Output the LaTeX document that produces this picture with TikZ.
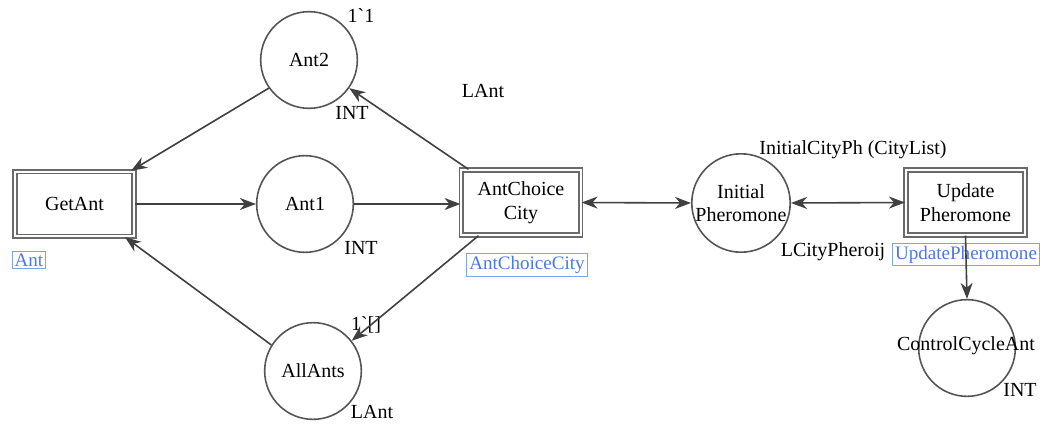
\documentclass[tikz,border=0pt]{standalone}
\usepackage{fontspec}
\setmainfont{Liberation Serif}[Ligatures=TeXOff]
\usetikzlibrary{arrows.meta,calc}
\definecolor{linegray}{HTML}{404040}
\definecolor{circgray}{HTML}{555555}
\definecolor{boxgray}{HTML}{6A6A6A}
\definecolor{cpnblue}{HTML}{4A78E8}
\definecolor{cpnbluebd}{HTML}{7DA2F2}
\tikzset{
  place/.style={circle, draw=circgray, line width=1.2pt, minimum size=72.5pt, inner sep=0pt, align=center,
    font=\fontsize{15pt}{17.5pt}\selectfont},
  trans/.style={rectangle, draw=boxgray, line width=1.3pt, double=white, double distance=1.5pt,
    minimum width=89.5pt, minimum height=48.5pt, inner sep=0pt, align=center,
    font=\fontsize{15pt}{18pt}\selectfont},
  lbl/.style={inner sep=0pt, font=\fontsize{15pt}{17.5pt}\selectfont},
  sublbl/.style={draw=cpnbluebd, line width=0.8pt, text=cpnblue, inner sep=1.8pt,
    font=\fontsize{14.3pt}{16pt}\selectfont},
  arc/.style={draw=linegray, line width=1.2pt, -{Stealth[length=12pt,width=9pt,inset=3.8pt]}},
  darc/.style={draw=linegray, line width=1.2pt, {Stealth[length=12pt,width=9pt,inset=3.8pt]}-{Stealth[length=12pt,width=9pt,inset=3.8pt]}}
}
\begin{document}
\begin{tikzpicture}[x=0.75pt,y=-0.75pt]
\useasboundingbox (0,0) rectangle (1045,425);
% transitions
\node[trans] (ga) at (74.5,204) {GetAnt};
\node[trans] (acc) at (521,202.5) {AntChoice\\City};
\node[trans] (up) at (965.5,202.5) {Update\\Pheromone};
% places
\node[place] (ant2) at (309,60) {Ant2};
\node[place] (ant1) at (305,204) {Ant1};
\node[place] (all) at (313,371) {AllAnts};
\node[place] (ip) at (741,203) {Initial\\Pheromone};
\node[place] (cca) at (967,348) {};
\node[lbl] (ccat) at (966,346) {ControlCycleAnt};
% substitution labels
\node[sublbl] (sga) at (29,260) {Ant};
\node[sublbl] (sacc) at (527,265) {AntChoiceCity};
\node[sublbl] (sup) at (966,254.5) {UpdatePheromone};
% place labels
\node[lbl] (i11) at (361,16) {1`1};
\node[lbl] (int2) at (352,113) {INT};
\node[lbl] (lant1) at (483,91) {LAnt};
\node[lbl] (int1) at (361,248) {INT};
\node[lbl] (iall) at (366,325) {1`[]};
\node[lbl] (lant2) at (372,412) {LAnt};
\node[lbl] (icp) at (853,150) {InitialCityPh (CityList)};
\node[lbl] (lcp) at (833,252) {LCityPheroij};
\node[lbl] (int3) at (1020,390) {INT};
% arcs
\draw[arc] (ant2.215) -- ($(ga.north east)+(-4,0)$);
\draw[arc] (ga.east) -- (ant1.west);
\draw[arc] (ant1.east) -- (ant1.east -| acc.west);
\draw[arc] ($(acc.north west)+(8,0)$) -- (ant2.325);
\draw[arc] ($(acc.south west)+(18,0)$) -- (all.38);
\draw[arc] (all.148) -- ($(ga.south east)+(-10,0)$);
\draw[darc] (acc.east) -- (ip.west);
\draw[darc] (ip.east) -- (up.west);
\draw[arc] (up.south) -- (cca.north);
\end{tikzpicture}
\end{document}
